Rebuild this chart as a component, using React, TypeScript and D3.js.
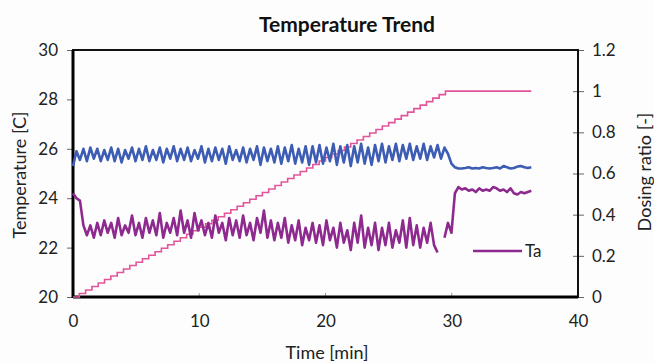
import React, { useEffect, useRef } from 'react'
import * as d3 from 'd3'

// sample interval of the logged temperatures, minutes
const sampleStep = 0.275
// dosing ratio is raised in steps of this length, minutes
const dosingStep = 0.5
const dosingEnd = 36.3

// blue trace (no legend entry)
const tempBlue = [
  25.3, 25.9, 25.55, 26.0, 25.5, 26.05, 25.6, 26.0, 25.5, 25.95,
  25.55, 26.05, 25.5, 26.0, 25.45, 25.95, 25.6, 26.05, 25.5, 26.0,
  25.55, 26.1, 25.5, 25.95, 25.55, 26.05, 25.45, 26.0, 25.6, 26.1,
  25.5, 26.0, 25.55, 26.05, 25.5, 25.95, 25.6, 26.1, 25.45, 26.0,
  25.5, 26.05, 25.55, 26.0, 25.4, 26.1, 25.55, 25.95, 25.5, 26.05,
  25.45, 26.0, 25.55, 26.1, 25.35, 26.05, 25.5, 26.0, 25.45, 26.1,
  25.4, 26.05, 25.5, 26.15, 25.4, 26.0, 25.45, 26.1, 25.35, 26.1,
  25.45, 26.15, 25.4, 26.05, 25.5, 26.2, 25.35, 26.1, 25.45, 26.15,
  25.3, 26.1, 25.45, 26.2, 25.4, 26.05, 25.35, 26.15, 25.5, 26.2,
  25.45, 26.1, 25.55, 26.2, 25.5, 26.15, 25.6, 26.2, 25.55, 26.1,
  25.6, 26.2, 25.55, 26.1, 25.65, 26.15, 25.6, 26.05, 25.8, 25.4,
  25.25, 25.2, 25.2, 25.22, 25.25, 25.2, 25.22, 25.2, 25.25, 25.22,
  25.2, 25.22, 25.25, 25.2, 25.3, 25.25, 25.2, 25.22, 25.28, 25.3,
  25.25, 25.22, 25.25,
]

// Ta trace, null = no reading
const tempTa: (number | null)[] = [
  24.2, 24.0, 23.9, 22.9, 22.5, 22.9, 22.4, 23.0, 22.5, 23.1,
  22.6, 23.0, 22.4, 23.2, 22.5, 22.9, 22.6, 23.3, 22.5, 23.0,
  22.4, 23.2, 22.6, 23.1, 22.5, 23.4, 22.4, 23.0, 22.6, 23.2,
  22.5, 23.5, 22.6, 23.1, 22.4, 23.4, 22.7, 23.1, 22.5, 23.0,
  22.4, 23.3, 22.6, 23.0, 22.3, 23.2, 22.5, 23.1, 22.4, 23.3,
  22.5, 23.0, 22.3, 23.2, 22.6, 23.5, 22.4, 23.1, 22.3, 23.0,
  22.4, 23.2, 22.2, 22.9, 22.3, 23.1, 22.1, 22.8, 22.3, 23.0,
  22.2, 22.9, 22.1, 23.1, 22.3, 22.8, 22.0, 23.0, 22.2, 22.7,
  21.9, 23.0, 22.2, 23.3, 22.0, 22.8, 22.1, 23.0, 21.9, 22.8,
  22.1, 23.0, 22.0, 22.7, 22.2, 23.1, 22.0, 23.2, 22.1, 22.9,
  22.0, 22.8, 22.2, 23.0, 22.1, 21.8, null, 22.4, 23.0, 22.6,
  24.2, 24.45, 24.35, 24.4, 24.3, 24.35, 24.25, 24.4, 24.3, 24.35,
  24.3, 24.45, 24.4, 24.3, 24.35, 24.25, 24.4, 24.2, 24.15, 24.25,
  24.2, 24.25, 24.3,
]

// dosing ratio levels, one per step
const dosingRatio = [
  0, 0.017, 0.034, 0.051, 0.068, 0.085, 0.102, 0.119, 0.136, 0.153,
  0.169, 0.186, 0.203, 0.22, 0.237, 0.254, 0.271, 0.288, 0.305, 0.322,
  0.339, 0.356, 0.373, 0.39, 0.407, 0.424, 0.441, 0.458, 0.475, 0.492,
  0.508, 0.525, 0.542, 0.559, 0.576, 0.593, 0.61, 0.627, 0.644, 0.661,
  0.678, 0.695, 0.712, 0.729, 0.746, 0.763, 0.78, 0.797, 0.814, 0.831,
  0.847, 0.864, 0.881, 0.898, 0.915, 0.932, 0.949, 0.966, 0.983, 1.0,
]

const xTicks = [0, 10, 20, 30, 40]
const leftTicks = [20, 22, 24, 26, 28, 30]
const rightTicks = [0, 0.2, 0.4, 0.6, 0.8, 1, 1.2]

const FONT = 'Lato, "Open Sans", sans-serif'

const App = () => {
  const ref = useRef<SVGSVGElement | null>(null)

  useEffect(() => {
    const width = 654
    const height = 363
    const margin = { top: 50, right: 76, bottom: 66, left: 73 }

    const svg = d3.select(ref.current)
    svg.selectAll('*').remove()

    const x = d3.scaleLinear().domain([0, 40]).range([margin.left, width - margin.right])
    const yL = d3.scaleLinear().domain([20, 30]).range([height - margin.bottom, margin.top])
    const yR = d3.scaleLinear().domain([0, 1.2]).range([height - margin.bottom, margin.top])

    svg.append('rect').attr('width', width).attr('height', height).attr('fill', '#fdfdfd')

    // title
    svg.append('text')
      .attr('x', 347).attr('y', 32)
      .attr('text-anchor', 'middle')
      .attr('font-family', FONT).attr('font-weight', 700).attr('font-size', 21)
      .attr('fill', '#111')
      .text('Temperature Trend')

    // axes
    const axL = svg.append('g').attr('transform', `translate(${margin.left},0)`)
      .call(d3.axisLeft(yL).tickValues(leftTicks).tickSize(6).tickPadding(9).tickFormat(d3.format('d')))
    const axR = svg.append('g').attr('transform', `translate(${width - margin.right},0)`)
      .call(d3.axisRight(yR).tickValues(rightTicks).tickSize(6).tickPadding(8).tickFormat((d) => String(+d)))
    const axB = svg.append('g').attr('transform', `translate(0,${height - margin.bottom})`)
      .call(d3.axisBottom(x).tickValues(xTicks).tickSize(0).tickPadding(18).tickFormat(d3.format('d')))

    for (const ax of [axL, axR, axB]) {
      ax.select('.domain').remove()
      ax.selectAll('text').attr('font-family', FONT).attr('font-size', 17).attr('fill', '#222')
      ax.selectAll('line').attr('stroke', '#666')
    }
    // right ticks cross the axis
    axR.selectAll('line').attr('x1', -5)
    // small inner ticks on the time axis
    svg.append('g').selectAll('line')
      .data(xTicks.slice(1, -1))
      .enter().append('line')
      .attr('x1', (d) => x(d)).attr('x2', (d) => x(d))
      .attr('y1', height - margin.bottom).attr('y2', height - margin.bottom - 4)
      .attr('stroke', '#999')

    // frame
    svg.append('rect')
      .attr('x', margin.left).attr('y', margin.top)
      .attr('width', width - margin.left - margin.right)
      .attr('height', height - margin.top - margin.bottom)
      .attr('fill', 'none').attr('stroke', '#111').attr('stroke-width', 2)
    svg.append('line')
      .attr('x1', margin.left).attr('x2', margin.left)
      .attr('y1', margin.top).attr('y2', height - margin.bottom + 1)
      .attr('stroke', '#000').attr('stroke-width', 3)
    svg.append('line')
      .attr('x1', margin.left).attr('x2', width - margin.right)
      .attr('y1', height - margin.bottom).attr('y2', height - margin.bottom)
      .attr('stroke', '#000').attr('stroke-width', 3)

    // axis titles
    svg.append('text')
      .attr('transform', `translate(26,175) rotate(-90)`)
      .attr('text-anchor', 'middle')
      .attr('font-family', FONT).attr('font-size', 18).attr('fill', '#222')
      .text('Temperature [C]')
    svg.append('text')
      .attr('transform', `translate(651,172) rotate(-90)`)
      .attr('text-anchor', 'middle')
      .attr('font-family', FONT).attr('font-size', 18).attr('fill', '#222')
      .text('Dosing ratio [-]')
    svg.append('text')
      .attr('x', 327).attr('y', 359)
      .attr('text-anchor', 'middle')
      .attr('font-family', FONT).attr('font-size', 18).attr('fill', '#222')
      .text('Time [min]')

    // dosing ratio staircase
    const dosePts: [number, number][] = dosingRatio.map((v, i) => [i * dosingStep, v])
    dosePts.push([dosingEnd, dosingRatio[dosingRatio.length - 1]])
    svg.append('path')
      .datum(dosePts)
      .attr('fill', 'none')
      .attr('stroke', '#e2559a')
      .attr('stroke-width', 1.6)
      .attr('d', d3.line<[number, number]>()
        .x((d) => x(d[0]))
        .y((d) => yR(d[1]))
        .curve(d3.curveStepAfter))

    const tempLine = d3.line<number | null>()
      .defined((d) => d != null)
      .x((_, i) => x(i * sampleStep))
      .y((d) => yL(d as number))

    svg.append('path')
      .datum(tempBlue)
      .attr('fill', 'none')
      .attr('stroke', '#3d5cb3')
      .attr('stroke-width', 2.6)
      .attr('stroke-linejoin', 'round')
      .attr('d', tempLine)

    svg.append('path')
      .datum(tempTa)
      .attr('fill', 'none')
      .attr('stroke', '#8e2a8f')
      .attr('stroke-width', 2.6)
      .attr('stroke-linejoin', 'round')
      .attr('d', tempLine)

    // legend
    const lg = svg.append('g').attr('transform', `translate(473,251)`)
    lg.append('line').attr('x1', 0).attr('x2', 49).attr('y1', 0).attr('y2', 0)
      .attr('stroke', '#8e2a8f').attr('stroke-width', 2.6)
    lg.append('text').attr('x', 52).attr('y', 0).attr('dy', '0.35em')
      .attr('font-family', FONT).attr('font-size', 17).attr('fill', '#222')
      .text('Ta')

    return () => {
      svg.selectAll('*').remove()
    }
  }, [])

  return (
    <svg ref={ref} width={654} height={363} style={{ position: 'absolute', left: 0, top: 0 }} />
  )
}

export default App
